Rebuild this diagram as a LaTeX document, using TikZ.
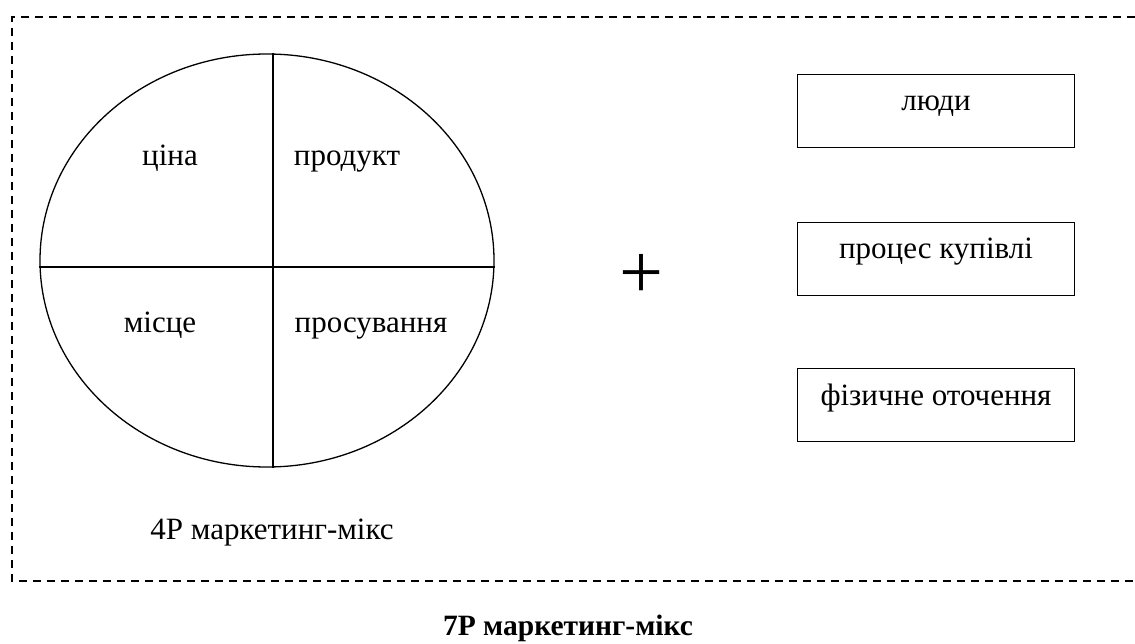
\documentclass[tikz,border=0pt]{standalone}
\usepackage{fontspec}
\setmainfont{Liberation Serif}
\usetikzlibrary{shapes.geometric}
\tikzset{
	lbl/.style={anchor=base,font=\fontsize{31}{36}\selectfont},
	pbox/.style={draw,line width=1pt,minimum width=277pt,minimum height=73pt,text height=9pt,text depth=9pt,font=\fontsize{31}{36}\selectfont}
}
\begin{document}
\begin{tikzpicture}[x=1pt,y=-1pt]
	\useasboundingbox (0,0) rectangle (1135,644);
	\draw[line width=1.4pt,dash pattern=on 8pt off 6pt] (1135,17) -- (12,17) -- (12,581) -- (1135,581);

	\node[draw,ellipse,line width=1.3pt,minimum width=454pt,minimum height=413pt] (mix) at (267,260.5) {};
	\draw[line width=1.3pt] ([xshift=6pt]mix.north) -- ([xshift=6pt]mix.south);
	\draw[line width=1.3pt] ([yshift=-6.5pt]mix.west) -- ([yshift=-6.5pt]mix.east);

	\node[lbl] (price) at (170,166) {ціна};
	\node[lbl] (product) at (347,166) {продукт};
	\node[lbl] (place) at (160,332) {місце};
	\node[lbl] (promo) at (371,332) {просування};
	\node[lbl] (fourp) at (272,539) {4P маркетинг-мікс};

	\node[font=\fontsize{78}{78}\selectfont] (plus) at (641,276) {+};

	\foreach \name/\y/\txt in {people/111/люди,process/259/процес купівлі,evidence/405/фізичне оточення}
		\node[pbox] (\name) at (936,\y) {\txt};

	\node[lbl,font=\fontsize{29.5}{34}\selectfont\bfseries] (sevenp) at (568,635) {7P маркетинг-мікс};
\end{tikzpicture}
\end{document}
